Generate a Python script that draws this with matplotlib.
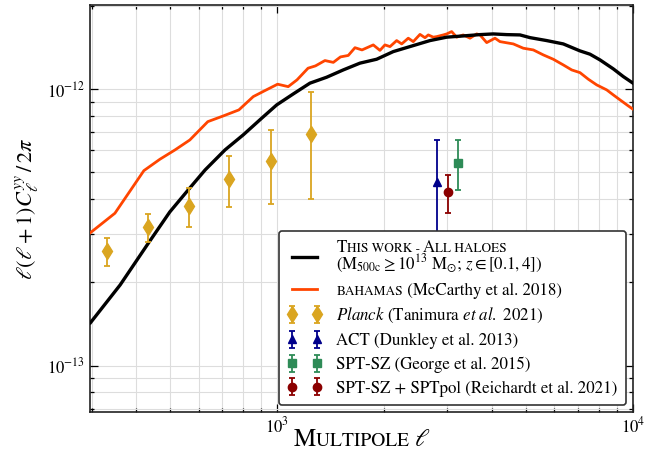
import matplotlib
matplotlib.use('Agg')
import matplotlib.pyplot as plt
from matplotlib.ticker import NullFormatter
from matplotlib.offsetbox import TextArea, HPacker, AnnotationBbox
from matplotlib.lines import Line2D

# ---------------- data ----------------
ell_model = [298, 361, 432, 498, 564, 626, 712, 801, 903, 995, 1108, 1234, 1375,
             1531, 1706, 1901, 2117, 2410, 2685, 2992, 3331, 3712, 4046, 4413,
             4810, 5133, 5717, 6366, 7094, 7568, 8075, 8805, 9392, 10000]
cl_model = [1.430e-13, 1.957e-13, 2.754e-13, 3.593e-13, 4.351e-13, 5.096e-13,
            6.019e-13, 6.82e-13, 7.837e-13, 8.753e-13, 9.592e-13, 1.049e-12,
            1.102e-12, 1.171e-12, 1.239e-12, 1.280e-12, 1.364e-12, 1.434e-12,
            1.495e-12, 1.538e-12, 1.554e-12, 1.571e-12, 1.580e-12, 1.571e-12,
            1.567e-12, 1.532e-12, 1.495e-12, 1.454e-12, 1.372e-12, 1.335e-12,
            1.273e-12, 1.181e-12, 1.108e-12, 1.049e-12]

ell_bahamas = [298, 349, 421, 467, 515, 567, 637, 704, 779, 855, 922, 1001, 1072,
               1135, 1219, 1279, 1360, 1436, 1504, 1582, 1652, 1729, 1860, 1942,
               2006, 2073, 2164, 2236, 2333, 2410, 2517, 2600, 2656, 2743, 2804,
               2927, 2992, 3090, 3192, 3331, 3480, 3634, 3712, 3877, 4091, 4226,
               4606, 4914, 5244, 5594, 5967, 6366, 6724, 7094, 7487, 7904, 8433,
               8805, 9192, 9701, 10000]
cl_bahamas = [3.025e-13, 3.554e-13, 5.066e-13, 5.569e-13, 6.019e-13, 6.54e-13,
              7.616e-13, 7.986e-13, 8.397e-13, 9.38e-13, 9.86e-13, 1.040e-12,
              1.019e-12, 1.078e-12, 1.188e-12, 1.211e-12, 1.266e-12, 1.247e-12,
              1.305e-12, 1.321e-12, 1.409e-12, 1.383e-12, 1.442e-12, 1.378e-12,
              1.442e-12, 1.422e-12, 1.495e-12, 1.454e-12, 1.525e-12, 1.482e-12,
              1.574e-12, 1.531e-12, 1.567e-12, 1.538e-12, 1.545e-12, 1.567e-12,
              1.580e-12, 1.611e-12, 1.538e-12, 1.567e-12, 1.525e-12, 1.580e-12,
              1.567e-12, 1.470e-12, 1.525e-12, 1.482e-12, 1.454e-12, 1.403e-12,
              1.383e-12, 1.327e-12, 1.280e-12, 1.221e-12, 1.171e-12, 1.145e-12,
              1.084e-12, 1.034e-12, 9.92e-13, 9.51e-13, 9.13e-13, 8.68e-13,
              8.445e-13]

ell_planck = [332, 433, 565, 732, 957, 1245]
cl_planck = [2.60e-13, 3.16e-13, 3.78e-13, 4.72e-13, 5.49e-13, 6.88e-13]
err_planck = [0.30e-13, 0.37e-13, 0.60e-13, 0.98e-13, 1.64e-13, 2.89e-13]

ell_act = [2810]
cl_act = [4.60e-13]
err_act = [1.94e-13]

ell_george = [3213]
cl_george = [5.42e-13]
err_george = [1.12e-13]

ell_reich = [3010]
cl_reich = [4.23e-13]
err_reich = [0.67e-13]

# ---------------- style ----------------
plt.rcParams['font.family'] = 'STIXGeneral'
plt.rcParams['mathtext.fontset'] = 'stix'

FS = 12.2        # legend font size
SC = 0.78 * FS   # small-caps size

fig = plt.figure(figsize=(6.62, 4.57), dpi=100)
ax = fig.add_axes([90 / 662, 45 / 457, 543 / 662, 407 / 457])

ax.plot(ell_model, cl_model, color='black', lw=2.4, zorder=4)
ax.plot(ell_bahamas, cl_bahamas, color='#FF4500', lw=2.0, zorder=3)

eb_kw = dict(ls='none', capsize=2, elinewidth=1.3, capthick=1.3, zorder=5)
ax.errorbar(ell_planck, cl_planck, yerr=err_planck, fmt='d', color='#DAA520',
            ms=8, **eb_kw)
ax.errorbar(ell_act, cl_act, yerr=err_act, fmt='^', color='#00008B', ms=6, **eb_kw)
ax.errorbar(ell_george, cl_george, yerr=err_george, fmt='s', color='#2E8B57',
            ms=6, **eb_kw)
ax.errorbar(ell_reich, cl_reich, yerr=err_reich, fmt='o', color='#8B0000',
            ms=6, **eb_kw)

ax.set_xscale('log')
ax.set_yscale('log')
ax.set_xlim(297, 1e4)
ax.set_ylim(6.8e-14, 2.01e-12)

ax.xaxis.set_minor_formatter(NullFormatter())
ax.yaxis.set_minor_formatter(NullFormatter())
ax.tick_params(which='both', direction='in', top=True, right=True,
               labelsize=12, width=0.9)
ax.tick_params(which='major', length=6)
ax.tick_params(which='minor', length=3)
ax.grid(True, which='both', color='#dddddd', lw=0.8)
ax.set_axisbelow(True)
for s in ax.spines.values():
    s.set_linewidth(1.2)
    s.set_color('#222222')

ax.set_ylabel(r'$\ell(\ell+1)C_\ell^{yy}\,/\,2\pi$', fontsize=16, labelpad=4)

# x label with small caps
xl = HPacker(children=[TextArea('M', textprops=dict(size=18)),
                       TextArea('ULTIPOLE ', textprops=dict(size=14)),
                       TextArea(r'$\ell$', textprops=dict(size=18))],
             align='baseline', pad=0, sep=0)
fig.add_artist(AnnotationBbox(xl, (362 / 662, 5 / 457), xycoords='figure fraction',
                              box_alignment=(0.5, 0), frameon=False, pad=0))

# legend
handles = []
labels = []
handles.append(Line2D([], [], color='black', lw=2.4))
labels.append('\n(M$_{\\rm 500c}\\geq 10^{13}$ M$_{\\odot}$; $z\\in[0.1,4]$)')
handles.append(Line2D([], [], color='#FF4500', lw=2.0))
labels.append('BAHAMAS (McCarthy et al. 2018)')
h = ax.containers
handles.extend([h[0], h[1], h[2], h[3]])
labels.extend([r'$\it{Planck}$ (Tanimura $\it{et\ al.}$ 2021)',
               'ACT (Dunkley et al. 2013)',
               'SPT-SZ (George et al. 2015)',
               'SPT-SZ + SPTpol (Reichardt et al. 2021)'])
leg = ax.legend(handles, labels, loc='lower right', fontsize=FS, numpoints=2,
                labelspacing=0.45, handlelength=2.07, handletextpad=0.83,
                borderpad=0.5, borderaxespad=0.4, framealpha=1,
                edgecolor='#333333', fancybox=True)
leg.get_frame().set_linewidth(1.2)
leg.set_zorder(10)

texts = leg.get_texts()
texts[0].set_linespacing(0.8)
# first entry: small caps first line
sc1 = HPacker(children=[TextArea('T', textprops=dict(size=FS)),
                        TextArea('HIS WORK - ', textprops=dict(size=SC)),
                        TextArea('A', textprops=dict(size=FS)),
                        TextArea('LL HALOES', textprops=dict(size=SC))],
              align='baseline', pad=0, sep=0)
ab1 = AnnotationBbox(sc1, (0, 1), xycoords=texts[0], box_alignment=(0, 1),
                     frameon=False, pad=0, annotation_clip=False)
ab1.set_zorder(11)
fig.add_artist(ab1)
# second entry: small caps BAHAMAS
texts[1].set_alpha(0)
sc2 = HPacker(children=[TextArea('BAHAMAS', textprops=dict(size=SC)),
                        TextArea(' (McCarthy et al. 2018)', textprops=dict(size=FS))],
              align='baseline', pad=0, sep=0)
ab2 = AnnotationBbox(sc2, (0, 0), xycoords=texts[1], box_alignment=(0, 0),
                     frameon=False, pad=0, annotation_clip=False)
ab2.set_zorder(11)
fig.add_artist(ab2)

fig.savefig('out.png', dpi=100)
